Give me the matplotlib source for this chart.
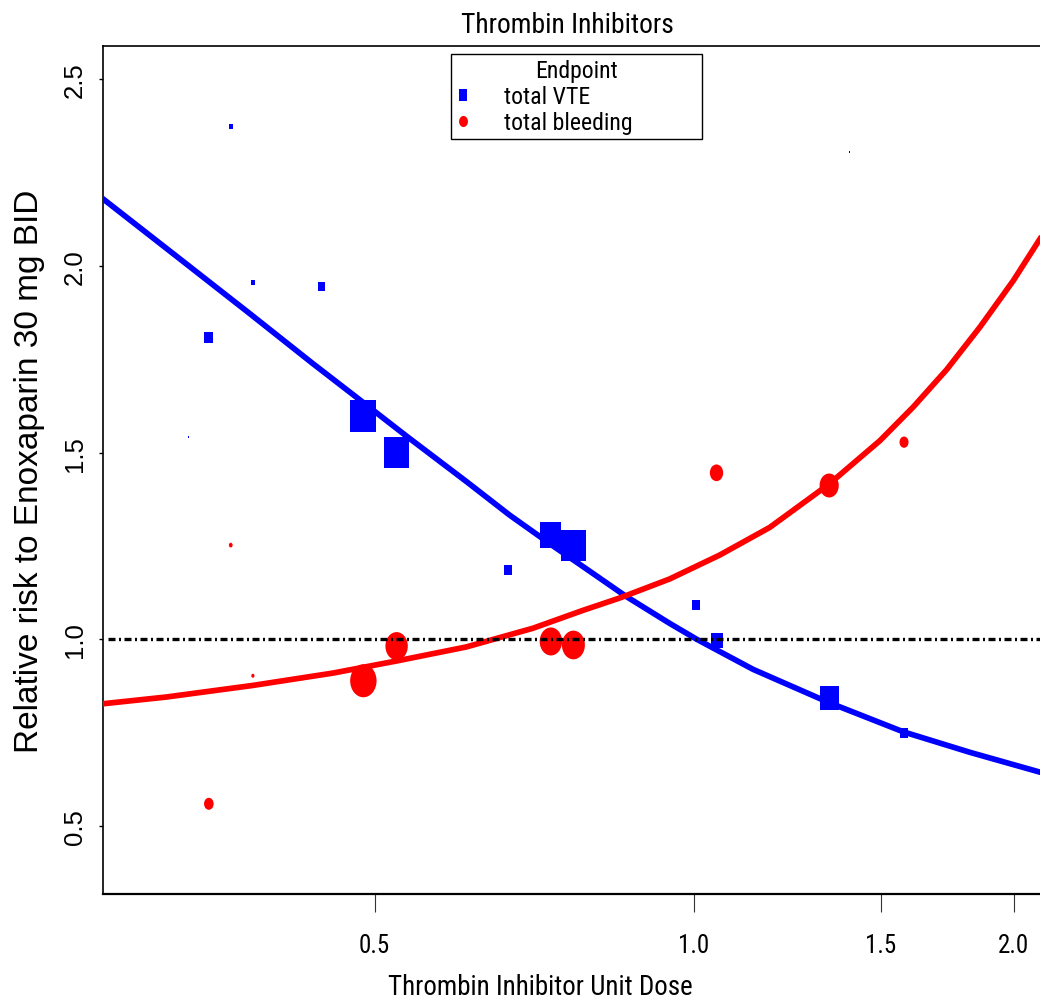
import matplotlib
matplotlib.use("Agg")
import matplotlib.pyplot as plt
from matplotlib import font_manager
from matplotlib.font_manager import FontProperties
from matplotlib.path import Path
from matplotlib.transforms import Affine2D
from matplotlib.lines import Line2D
from matplotlib.ticker import FixedLocator, FixedFormatter, NullLocator

# observed relative risks per dose group (marker height ~ study weight, in px)
vte_dose = [0.366, 0.384, 0.446, 0.349, 0.334, 0.488, 0.5245, 0.6685, 0.733,
            0.7697, 1.0044, 1.0499, 1.3406, 1.577, 1.401]
vte_rr = [2.372, 1.956, 1.945, 1.809, 1.543, 1.598, 1.501, 1.186, 1.280,
          1.2515, 1.091, 0.997, 0.844, 0.7504, 2.305]
vte_px = [4.5, 5, 8.7, 11, 2, 32.7, 31, 10, 26, 31, 10, 15, 24, 10, 2]

bleed_dose = [0.366, 0.384, 0.349, 0.488, 0.5245, 0.733, 0.7697, 1.0499, 1.3406, 1.577]
bleed_rr = [1.2525, 0.903, 0.5604, 0.8895, 0.9823, 0.9947, 0.9853, 1.446, 1.412, 1.528]
bleed_px = [4.7, 4, 12, 33, 28, 28, 28.7, 16.7, 24, 11.3]

# fitted dose-response curves
vte_fit_dose = [0.2774, 0.3299, 0.3810, 0.4370, 0.4874, 0.5354, 0.6100, 0.6701, 0.7367,
                0.7915, 0.8622, 0.9486, 1.0052, 1.1367, 1.3406, 1.5743, 1.8196, 2.1181]
vte_fit_rr = [2.179, 2.012, 1.873, 1.739, 1.635, 1.545, 1.423, 1.333, 1.250,
              1.189, 1.116, 1.043, 1.001, 0.920, 0.831, 0.753, 0.698, 0.645]

bleed_fit_dose = [0.2773, 0.3181, 0.3838, 0.4566, 0.5277, 0.6100, 0.7049, 0.7859, 0.8510,
                  0.9486, 1.0574, 1.1786, 1.3406, 1.4966, 1.6087, 1.7297, 1.8594, 1.9987,
                  2.1181]
bleed_fit_rr = [0.828, 0.846, 0.877, 0.910, 0.944, 0.980, 1.030, 1.078, 1.111,
                1.162, 1.226, 1.300, 1.416, 1.532, 1.622, 1.722, 1.836, 1.960,
                2.072]

reference_rr = 1.0

xticks = [0.5, 1.0, 1.5, 2.0]
xtick_labels = ["0.5", "1.0", "1.5", "2.0"]
yticks = [0.5, 1.0, 1.5, 2.0, 2.5]
ytick_labels = ["0.5", "1.0", "1.5", "2.0", "2.5"]


def find_narrow():
    # the original uses a condensed Helvetica for title, x axis and legend
    wanted = ["Liberation Sans Narrow", "Arial Narrow", "Nimbus Sans Narrow",
              "Roboto Condensed", "DejaVu Sans Condensed", "Noto Sans Condensed",
              "Open Sans Condensed"]
    entries = font_manager.fontManager.ttflist
    regular = ("400", "normal", "regular", "book")
    for name in wanted:
        for f in entries:
            if f.name == name and f.style == "normal" and str(f.weight) in regular:
                return f.fname
    for f in entries:
        if "condensed" in str(f.stretch) and f.style == "normal" and str(f.weight) in regular:
            return f.fname
    return None


narrow_file = find_narrow()


def narrow_font(size):
    if narrow_file:
        return FontProperties(fname=narrow_file, size=size)
    return FontProperties(family="Liberation Sans", size=size)


names = {f.name for f in font_manager.fontManager.ttflist}
wide = "Liberation Sans" if "Liberation Sans" in names else "DejaVu Sans"

# markers are slightly taller than wide in the original
rect = Path([(-0.8, -1), (0.8, -1), (0.8, 1), (-0.8, 1), (-0.8, -1)],
            [Path.MOVETO, Path.LINETO, Path.LINETO, Path.LINETO, Path.CLOSEPOLY])
oval = Path.unit_circle().transformed(Affine2D().scale(0.8, 1.0))

W, H = 1040, 1003
fig = plt.figure(figsize=(W / 100, H / 100), dpi=100)
ax = fig.add_axes([103 / W, (H - 895) / H, 957 / W, 848 / H])
renderer = fig.canvas.get_renderer()

ax.set_xscale("log")
ax.set_xlim(0.2774, 2.212)
ax.set_ylim(0.319, 2.588)

ax.scatter(vte_dose, vte_rr, s=[(p * 0.72) ** 2 for p in vte_px], marker=rect,
           color="#0000ff", linewidths=0, zorder=2)
ax.scatter(bleed_dose, bleed_rr, s=[(p * 0.72) ** 2 for p in bleed_px], marker=oval,
           color="#ff0000", linewidths=0, zorder=2)
ax.plot(vte_fit_dose, vte_fit_rr, color="#0000ff", lw=4.1, zorder=3)
ax.plot(bleed_fit_dose, bleed_fit_rr, color="#ff0000", lw=4.1, zorder=4)
ax.axhline(reference_rr, xmin=0.005, color="black", lw=2.4,
           ls=(0, (2.1, 1.05, 0.6, 1.05)), zorder=5)

# title and x label: size chosen from the measured width and cap height
title = fig.text(567 / W, 1 - 33 / H, "Thrombin Inhibitors",
                 fontproperties=narrow_font(21), ha="center", va="baseline")
w = title.get_window_extent(renderer).width
tsize = (21 * 203 / w * 21) ** 0.5
title.set_fontsize(tsize)
r = tsize / 21

xlab = fig.text(540 / W, 1 - 995 / H, "Thrombin Inhibitor Unit Dose",
                fontproperties=narrow_font(20.5 * r), ha="center", va="baseline")

fig.text(30 / W, 1 - 471 / H, "Relative risk to Enoxaparin 30 mg BID", family=wide,
         fontsize=24, rotation=90, ha="center", va="center")

ax.xaxis.set_major_locator(FixedLocator(xticks))
ax.xaxis.set_major_formatter(FixedFormatter(xtick_labels))
ax.xaxis.set_minor_locator(NullLocator())
ax.yaxis.set_major_locator(FixedLocator(yticks))
ax.yaxis.set_major_formatter(FixedFormatter(ytick_labels))

ax.tick_params(axis="x", direction="out", length=13, width=0.8, pad=15,
               color="#333333")
ax.tick_params(axis="y", direction="out", length=3, width=1.0, pad=8.5,
               labelsize=18.5, labelrotation=90)
for lab in ax.get_xticklabels():
    lab.set_fontproperties(narrow_font(19 * r))
for lab in ax.get_yticklabels():
    lab.set_family(wide)
    lab.set_va("center")

for s in ["left", "top"]:
    ax.spines[s].set_linewidth(1.2)
ax.spines["bottom"].set_linewidth(1.6)
ax.spines["right"].set_visible(False)

handles = [Line2D([], [], ls="none", marker=rect, ms=8, color="#0000ff", mew=0),
           Line2D([], [], ls="none", marker=oval, ms=8, color="#ff0000", mew=0)]
lsize = 18 * r
leg = ax.legend(handles, ["total VTE", "total bleeding"], title="Endpoint",
                loc="upper left", bbox_to_anchor=(0.3636, 0.8893, 0.2623, 0.1013),
                mode="expand", borderaxespad=0, borderpad=0.2,
                handlelength=14 / (lsize / 0.72), handletextpad=34 / (lsize / 0.72),
                labelspacing=0.14, fancybox=False, framealpha=1, edgecolor="black",
                prop=narrow_font(lsize), title_fontproperties=narrow_font(lsize))
leg.get_frame().set_linewidth(1.0)
leg.set_zorder(6)

fig.savefig("out.png", dpi=100)
